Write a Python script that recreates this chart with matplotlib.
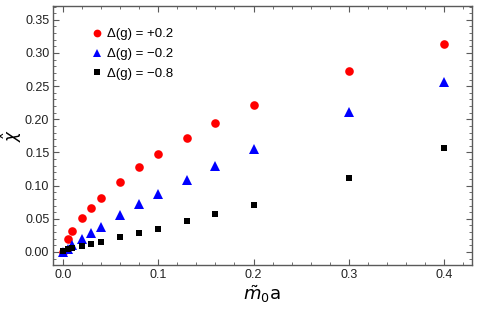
import matplotlib
matplotlib.use("Agg")
import matplotlib.pyplot as plt
from matplotlib.ticker import MultipleLocator

plt.rcParams['font.family'] = ['Liberation Sans', 'DejaVu Sans']
plt.rcParams['mathtext.fontset'] = 'dejavusans'

# data
x = [0, 0.005, 0.01, 0.02, 0.03, 0.04, 0.06, 0.08, 0.1, 0.13, 0.16, 0.2, 0.3, 0.4]
chi_p02 = [0.0, 0.019, 0.031, 0.051, 0.067, 0.081, 0.106, 0.128, 0.147, 0.172, 0.195, 0.221, 0.273, 0.313]
chi_m02 = [0.0, 0.005, 0.010, 0.019, 0.029, 0.038, 0.055, 0.072, 0.087, 0.109, 0.130, 0.155, 0.211, 0.257]
chi_m08 = [0.001, 0.004, 0.006, 0.009, 0.012, 0.015, 0.022, 0.029, 0.035, 0.046, 0.057, 0.071, 0.111, 0.157]

labels = [r'Δ(g) = +0.2', r'Δ(g) = −0.2', r'Δ(g) = −0.8']

fig = plt.figure(figsize=(4.8, 3.11), dpi=100)
ax = fig.add_axes([0.110, 0.148, 0.873, 0.833])

ax.plot(x, chi_p02, 'o', color='#ff0000', markersize=6.2, markeredgewidth=0, label=labels[0])
ax.plot(x, chi_m02, '^', color='#0000ff', markersize=6.5, markeredgewidth=0, label=labels[1])
ax.plot(x, chi_m08, 's', color='#000000', markersize=5.0, markeredgewidth=0, label=labels[2])

ax.set_xlim(-0.0105, 0.429)
ax.set_ylim(-0.0196, 0.371)

ax.xaxis.set_major_locator(MultipleLocator(0.1))
ax.xaxis.set_minor_locator(MultipleLocator(0.02))
ax.yaxis.set_major_locator(MultipleLocator(0.05))
ax.yaxis.set_minor_locator(MultipleLocator(0.01))
ax.xaxis.set_major_formatter(plt.FuncFormatter(lambda v, p: f'{v:.1f}'))
ax.yaxis.set_major_formatter(plt.FuncFormatter(lambda v, p: f'{v:.2f}'))

frame = '#5a5a5a'
for s in ax.spines.values():
    s.set_color(frame)
    s.set_linewidth(1.0)
ax.tick_params(which='both', direction='in', top=True, right=True, color=frame,
               labelsize=9, labelcolor='#222222')
ax.tick_params(which='major', length=4, width=0.8, pad=3)
ax.tick_params(axis='y', which='major', pad=2.5)
ax.tick_params(which='minor', length=2, width=0.6)

ax.set_xlabel(r'$\tilde{m}_0\mathrm{a}$', fontsize=13, labelpad=2)
ax.set_ylabel(r'$\hat{\chi}$', fontsize=12)
ax.yaxis.label.set_verticalalignment('center')
ax.yaxis.set_label_coords(-0.097, 0.5)

leg = ax.legend(loc='upper left', bbox_to_anchor=(0.075, 0.935), frameon=False,
                fontsize=9.5, handletextpad=0.2, labelspacing=0.58, borderaxespad=0,
                handlelength=1.1, markerscale=0.9)

fig.savefig('out.png', dpi=100)
